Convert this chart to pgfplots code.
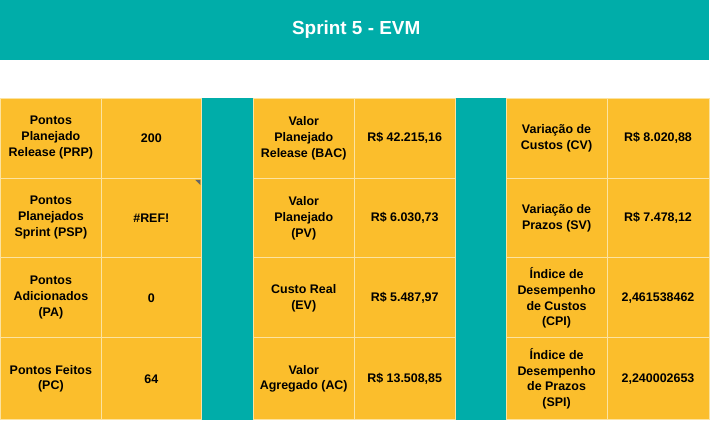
\documentclass[border=0pt]{standalone}
\usepackage{pgfplots}
\pgfplotsset{compat=1.18}
\usepackage{fontspec}
\setmainfont{Liberation Sans}
\definecolor{teal}{HTML}{00ADA9}
\definecolor{org}{HTML}{FBBE2C}
\definecolor{lin}{HTML}{FCE3A0}
\newcommand{\cell}[5]{%
  \filldraw[fill=org,draw=lin,line width=0.8pt] (axis cs:#1,#3) rectangle (axis cs:#2,#4);
  \node[align=center,font=\bfseries\fontsize{12.5}{16}\selectfont,inner sep=0pt] at (axis cs:{(#1+#2)/2},{(#3+#4)/2}) {#5};}
\begin{document}
\begin{tikzpicture}
\begin{axis}[width=713bp,height=427bp,scale only axis,hide axis,
  xmin=0,xmax=713,ymin=0,ymax=427,y dir=reverse,clip=false]
\addplot[draw=none] coordinates {(0,0)(713,427)};
\fill[teal] (axis cs:0,0) rectangle (axis cs:709,60);
\node[text=white,font=\bfseries\fontsize{19}{22}\selectfont] at (axis cs:356,30) {Sprint 5 - EVM};
\fill[teal] (axis cs:201,98) rectangle (axis cs:253,420);
\fill[teal] (axis cs:455,98) rectangle (axis cs:506,420);
\cell{0}{101}{98}{178}{Pontos\\Planejado\\Release (PRP)}
\cell{101}{201}{98}{178}{200}
\cell{0}{101}{178}{258}{Pontos\\Planejados\\Sprint (PSP)}
\cell{101}{201}{178}{258}{\#REF!}
\cell{0}{101}{258}{338}{Pontos\\Adicionados\\(PA)}
\cell{101}{201}{258}{338}{0}
\cell{0}{101}{338}{420}{Pontos Feitos\\(PC)}
\cell{101}{201}{338}{420}{64}
\cell{253}{354}{98}{178}{Valor\\Planejado\\Release (BAC)}
\cell{354}{455}{98}{178}{R\$ 42.215,16}
\cell{253}{354}{178}{258}{Valor\\Planejado\\(PV)}
\cell{354}{455}{178}{258}{R\$ 6.030,73}
\cell{253}{354}{258}{338}{Custo Real\\(EV)}
\cell{354}{455}{258}{338}{R\$ 5.487,97}
\cell{253}{354}{338}{420}{Valor\\Agregado (AC)}
\cell{354}{455}{338}{420}{R\$ 13.508,85}
\cell{506}{607}{98}{178}{Variação de\\Custos (CV)}
\cell{607}{709}{98}{178}{R\$ 8.020,88}
\cell{506}{607}{178}{258}{Variação de\\Prazos (SV)}
\cell{607}{709}{178}{258}{R\$ 7.478,12}
\cell{506}{607}{258}{338}{Índice de\\Desempenho\\de Custos\\(CPI)}
\cell{607}{709}{258}{338}{2,461538462}
\cell{506}{607}{338}{420}{Índice de\\Desempenho\\de Prazos\\(SPI)}
\cell{607}{709}{338}{420}{2,240002653}
\fill[black!60] (axis cs:195,180) -- (axis cs:200,180) -- (axis cs:200,185) -- cycle;
\end{axis}
\end{tikzpicture}
\end{document}
